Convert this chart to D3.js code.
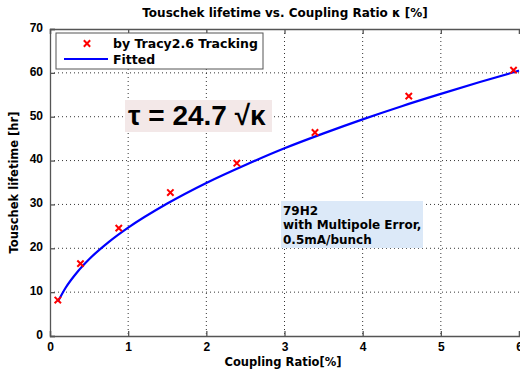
<!DOCTYPE html>
<html>
<head>
<meta charset="utf-8">
<script src="https://cdn.jsdelivr.net/npm/d3@7"></script>
<style>
  body { margin: 0; background: #fff; }
  svg { display: block; font-family: "DejaVu Sans", Arial, sans-serif; }
</style>
</head>
<body>
<svg id="chart" width="520" height="372"></svg>
<script>
// --- données ---
const kappa    = [0.1, 0.39, 0.88, 1.54, 2.39, 3.39, 4.59, 5.93];
const lifetime = [8.2, 16.5, 24.6, 32.7, 39.4, 46.4, 54.7, 60.6];

// courbe ajustée
const fitX = [0.1, 0.2, 0.35, 0.5, 0.75, 1, 1.5, 2, 2.5, 3, 3.5, 4, 4.5, 5, 5.5, 6];
const fitY = [7.8, 11.0, 14.6, 17.5, 21.4, 24.7, 30.2, 34.9, 39.0, 42.8, 46.2, 49.4, 52.4, 55.2, 57.9, 60.5];

const xTicks = [0, 1, 2, 3, 4, 5, 6];
const yTicks = [0, 10, 20, 30, 40, 50, 60, 70];

const legendLabels = ["by Tracy2.6 Tracking", "Fitted"];
const noteLines = ["79H2", "with Multipole Error,", "0.5mA/bunch"];

// --- mise en page ---
const svg = d3.select("#chart");
const plotL = 50, plotR = 519, plotT = 29, plotB = 336;

const x = d3.scaleLinear().domain([0, 6]).range([plotL, plotR]);
const y = d3.scaleLinear().domain([0, 70]).range([plotB, plotT]);

// grille pointillée
svg.append("g").selectAll("line")
  .data(xTicks.slice(1, -1)).enter().append("line")
  .attr("x1", d => x(d)).attr("x2", d => x(d))
  .attr("y1", plotT).attr("y2", plotB)
  .attr("stroke", "#000").attr("stroke-width", 0.8)
  .attr("stroke-dasharray", "1,3");
svg.append("g").selectAll("line")
  .data(yTicks.slice(1, -1)).enter().append("line")
  .attr("x1", plotL).attr("x2", plotR)
  .attr("y1", d => y(d)).attr("y2", d => y(d))
  .attr("stroke", "#000").attr("stroke-width", 0.8)
  .attr("stroke-dasharray", "1,3");

// axes (ticks vers l'intérieur)
const axisColor = "#555";
const gx = svg.append("g").attr("transform", `translate(0,${plotB})`)
  .call(d3.axisBottom(x).tickValues(xTicks).tickSize(-5).tickPadding(6).tickFormat(d3.format("d")));
const gxTop = svg.append("g").attr("transform", `translate(0,${plotT})`)
  .call(d3.axisTop(x).tickValues(xTicks).tickSize(-5).tickFormat(""));
const gy = svg.append("g").attr("transform", `translate(${plotL},0)`)
  .call(d3.axisLeft(y).tickValues(yTicks).tickSize(-5).tickPadding(7));

[gx, gxTop, gy].forEach(g => {
  g.select(".domain").attr("stroke", axisColor).attr("stroke-width", 1.3);
  g.selectAll(".tick line").attr("stroke", axisColor).attr("stroke-width", 1.3);
  g.selectAll(".tick text")
    .style("font-size", "12px").style("font-weight", "bold").attr("fill", "#000");
});
gy.selectAll(".tick text").attr("dy", "0.2em");

// titres
svg.append("text").attr("x", 285).attr("y", 17).attr("text-anchor", "middle")
  .style("font-size", "12px").style("font-weight", "bold")
  .text("Touschek lifetime vs. Coupling Ratio κ [%]");
svg.append("text").attr("x", 283).attr("y", 366).attr("text-anchor", "middle")
  .style("font-size", "11.5px").style("font-weight", "bold")
  .text("Coupling Ratio[%]");
svg.append("text")
  .attr("transform", `translate(18,${(plotT + plotB) / 2}) rotate(-90)`)
  .attr("text-anchor", "middle")
  .style("font-size", "11.5px").style("font-weight", "bold")
  .text("Touschek lifetime [hr]");

// courbe ajustée
const fitData = fitX.map((d, i) => [d, fitY[i]]);
svg.append("path").datum(fitData)
  .attr("fill", "none").attr("stroke", "#0000ff").attr("stroke-width", 2.2)
  .attr("d", d3.line().x(d => x(d[0])).y(d => y(d[1])).curve(d3.curveMonotoneX));

// points (croix rouges)
const cross = d3.symbol().type(d3.symbolX).size(28);
svg.append("g").selectAll("path")
  .data(kappa.map((d, i) => [d, lifetime[i]])).enter().append("path")
  .attr("transform", d => `translate(${x(d[0])},${y(d[1])})`)
  .attr("d", cross).attr("fill", "#ff0000").attr("stroke", "#ff0000").attr("stroke-width", 2);

// légende
const lg = svg.append("g");
lg.append("rect").attr("x", 56).attr("y", 33).attr("width", 207).attr("height", 36)
  .attr("fill", "#fff").attr("stroke", "#555").attr("stroke-width", 1);
lg.append("path").attr("transform", "translate(87,43.5)").attr("d", cross)
  .attr("fill", "#ff0000").attr("stroke", "#ff0000").attr("stroke-width", 2);
lg.append("line").attr("x1", 64).attr("x2", 108).attr("y1", 59).attr("y2", 59)
  .attr("stroke", "#0000ff").attr("stroke-width", 2);
legendLabels.forEach((t, i) => {
  lg.append("text").attr("x", 113).attr("y", 48 + i * 16)
    .style("font-size", "12.5px").style("font-weight", "bold").text(t);
});

// formule
svg.append("rect").attr("x", 125).attr("y", 100).attr("width", 147).attr("height", 32)
  .attr("fill", "#f3e8e8");
svg.append("text").attr("x", 128).attr("y", 124.5)
  .style("font-family", "'Liberation Sans', Arial, sans-serif")
  .style("font-size", "28px").style("font-weight", "bold")
  .text("τ = 24.7 √κ");

// note
svg.append("rect").attr("x", 281).attr("y", 201).attr("width", 142).attr("height", 47)
  .attr("fill", "#dce9f8");
noteLines.forEach((t, i) => {
  svg.append("text").attr("x", 283).attr("y", 214.5 + i * 14.5)
    .style("font-size", "12px").style("font-weight", "bold").text(t);
});
</script>
</body>
</html>
